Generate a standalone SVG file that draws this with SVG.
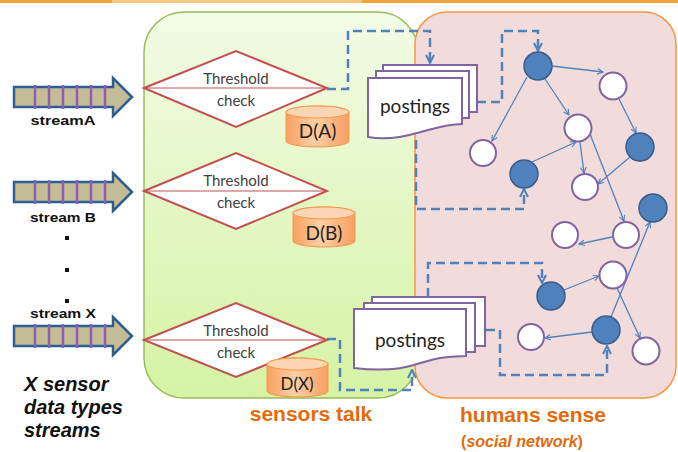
<svg xmlns="http://www.w3.org/2000/svg" width="678" height="452" viewBox="0 0 678 452">
<style>
.dash{fill:none;stroke:#4f81bd;stroke-width:2.5;stroke-dasharray:9 5}
.edge{fill:none;stroke:#4f81bd;stroke-width:1.3}
.bn{fill:#4f81bd;stroke:#385d8a;stroke-width:1.5}
.wn{fill:#ffffff;stroke:#8064a2;stroke-width:2}
.dia{fill:#ffffff;stroke:#c0504d;stroke-width:2}
.dline{stroke:#c0504d;stroke-width:1.2}
.tt{font-family:Lato,"Open Sans",sans-serif;font-size:15px;fill:#404040;text-anchor:middle}
.cyl{fill:url(#cylg);stroke:#f79646;stroke-width:1}
.cyltop{fill:#fcd5b4;stroke:#f79646;stroke-width:1}
.ct{font-family:Lato,"Open Sans",sans-serif;font-size:19px;fill:#222;text-anchor:middle}
.doc{fill:#ffffff;stroke:#8064a2;stroke-width:2}
.pt{font-family:Lato,"Open Sans",sans-serif;font-size:19px;fill:#222;text-anchor:middle}
.sl{font-family:"Liberation Sans",Arial,sans-serif;font-weight:bold;font-size:13px;fill:#111;text-anchor:middle}
.lab{font-family:"Liberation Sans",Arial,sans-serif;font-weight:bold;font-size:21px;fill:#e26b0a;text-anchor:middle}
.xs{font-family:"Liberation Sans",Arial,sans-serif;font-weight:bold;font-style:italic;font-size:20px;fill:#111}
.stripe{stroke:#8e5fb0;stroke-width:2.5}
</style>
<defs>
<linearGradient id="greeng" x1="0" y1="0" x2="0" y2="1">
<stop offset="0" stop-color="#f2fbe6"/>
<stop offset="1" stop-color="#d5f3a4"/>
</linearGradient>
<linearGradient id="cylg" x1="0" y1="0" x2="1" y2="0">
<stop offset="0" stop-color="#f8a060"/>
<stop offset="0.45" stop-color="#fccfa5"/>
<stop offset="1" stop-color="#f8a060"/>
</linearGradient>
<marker id="chev" viewBox="0 0 10 10" refX="9" refY="5" markerWidth="10" markerHeight="10" markerUnits="userSpaceOnUse" orient="auto">
<path d="M1,1 L9,5 L1,9" fill="none" stroke="#4f81bd" stroke-width="2" stroke-dasharray="none"/>
</marker>
<marker id="arr" viewBox="0 0 10 10" refX="9" refY="5" markerWidth="7" markerHeight="7" markerUnits="userSpaceOnUse" orient="auto">
<path d="M1,1 L9,5 L1,9" fill="none" stroke="#4f81bd" stroke-width="1.6"/>
</marker>
<g id="streamArrow">
<path d="M14,-10 H113 V-19 L132,0 L113,19 V10 H14 Z" fill="#c4bc96" stroke="#2e5d93" stroke-width="2.5" stroke-linejoin="miter"/>
<line class="stripe" x1="35" y1="-12" x2="35" y2="12"/>
<line class="stripe" x1="49" y1="-12" x2="49" y2="12"/>
<line class="stripe" x1="63" y1="-12" x2="63" y2="12"/>
<line class="stripe" x1="77" y1="-12" x2="77" y2="12"/>
<line class="stripe" x1="91" y1="-12" x2="91" y2="12"/>
<line class="stripe" x1="105" y1="-12" x2="105" y2="12"/>
</g>
</defs>

<rect x="0" y="0" width="678" height="3" fill="#f2a33a"/>
<rect x="112" y="0" width="250" height="3" fill="#f8c680"/>

<g id="sensors-panel">
<rect x="144" y="12" width="274" height="386" rx="40" ry="40" fill="url(#greeng)" stroke="#9bbb59" stroke-width="1.5"/>
</g>
<g id="humans-panel">
<rect x="415" y="12" width="261" height="386" rx="32" ry="32" fill="#f2dcdb" stroke="#f79646" stroke-width="1.5"/>
</g>

<g id="streamA"><use href="#streamArrow" transform="translate(0,97)"/>
<text class="sl" x="63" y="125" textLength="65" lengthAdjust="spacingAndGlyphs">streamA</text></g>
<g id="streamB"><use href="#streamArrow" transform="translate(0,192)"/>
<text class="sl" x="63" y="222" textLength="66" lengthAdjust="spacingAndGlyphs">stream B</text></g>
<g id="dots" fill="#111">
<rect x="65" y="236" width="4" height="4"/>
<rect x="65" y="268" width="4" height="4"/>
<rect x="65" y="299" width="4" height="4"/>
</g>
<g id="streamX"><use href="#streamArrow" transform="translate(0,336)"/>
<text class="sl" x="63" y="318" textLength="66" lengthAdjust="spacingAndGlyphs">stream X</text></g>
<g id="xsensor-label">
<text class="xs" x="24" y="391">X sensor</text>
<text class="xs" x="24" y="414">data types</text>
<text class="xs" x="24" y="437">streams</text>
</g>

<g id="checkA">
<polygon class="dia" points="144,88 236,51 327,88 236,127"/>
<line class="dline" x1="144" y1="88" x2="327" y2="88"/>
<text class="tt" x="236" y="84">Threshold</text>
<text class="tt" x="236" y="106">check</text>
</g>
<g id="checkB">
<polygon class="dia" points="144,191 236,153 327,191 236,229"/>
<line class="dline" x1="144" y1="191" x2="327" y2="191"/>
<text class="tt" x="236" y="186">Threshold</text>
<text class="tt" x="236" y="208">check</text>
</g>
<g id="checkX">
<polygon class="dia" points="144,340 236,303 327,340 236,377"/>
<line class="dline" x1="144" y1="340" x2="327" y2="340"/>
<text class="tt" x="236" y="336">Threshold</text>
<text class="tt" x="236" y="358">check</text>
</g>

<g id="DA">
<path class="cyl" d="M286,112 A31.5,6 0 0 1 349,112 V141 A31.5,6 0 0 1 286,141 Z"/>
<ellipse class="cyltop" cx="317.5" cy="112" rx="31.5" ry="6"/>
<text class="ct" x="317.5" y="138">D(A)</text>
</g>
<g id="DB">
<path class="cyl" d="M293,213 A31,6 0 0 1 355,213 V241 A31,6 0 0 1 293,241 Z"/>
<ellipse class="cyltop" cx="324" cy="213" rx="31" ry="6"/>
<text class="ct" x="324" y="240">D(B)</text>
</g>
<g id="DX">
<path class="cyl" d="M267,364 A30.5,6 0 0 1 328,364 V391 A30.5,6 0 0 1 267,391 Z"/>
<ellipse class="cyltop" cx="297.5" cy="364" rx="30.5" ry="6"/>
<text class="ct" x="297" y="390" style="font-size:17px">D(X)</text>
</g>

<g id="connectors">
<path class="dash" d="M327,89 H348 V31 H430 V63" marker-end="url(#chev)"/>
<path class="dash" d="M477,102 H502 V31 H538 V51" marker-end="url(#chev)"/>
<path class="dash" d="M416,140 V209 H524 V189" marker-end="url(#chev)"/>
<path class="dash" d="M327,339 H340 V390 H412 V370" marker-end="url(#chev)"/>
<path class="dash" d="M428,297 V263 H542 V283" marker-end="url(#chev)"/>
<path class="dash" d="M472,330 H500 V375 H607 V346" marker-end="url(#chev)"/>
<line class="edge" x1="552" y1="66" x2="603" y2="72" marker-end="url(#arr)"/>
<line class="edge" x1="527" y1="77" x2="492" y2="141" marker-end="url(#arr)"/>
<line class="edge" x1="545" y1="79" x2="569" y2="115" marker-end="url(#arr)"/>
<line class="edge" x1="619" y1="99" x2="636" y2="133" marker-end="url(#arr)"/>
<line class="edge" x1="532" y1="162" x2="576" y2="142" marker-end="url(#arr)"/>
<line class="edge" x1="580" y1="142" x2="584" y2="173" marker-end="url(#arr)"/>
<line class="edge" x1="590" y1="134" x2="624" y2="221" marker-end="url(#arr)"/>
<line class="edge" x1="630" y1="157" x2="598" y2="184" marker-end="url(#arr)"/>
<line class="edge" x1="612" y1="237" x2="579" y2="244" marker-end="url(#arr)"/>
<line class="edge" x1="564" y1="290" x2="599" y2="276" marker-end="url(#arr)"/>
<line class="edge" x1="617" y1="288" x2="640" y2="338" marker-end="url(#arr)"/>
<line class="edge" x1="592" y1="332" x2="545" y2="338" marker-end="url(#arr)"/>
<line class="edge" x1="611" y1="317" x2="650" y2="222" marker-end="url(#arr)"/>
</g>

<g id="postingsTop">
<rect class="doc" x="383" y="65" width="94" height="47"/>
<rect class="doc" x="376" y="71" width="93" height="47"/>
<path class="doc" d="M368,78 H462 V124 C445,124 430,130 417,133 C400,138 385,140 368,137 Z"/>
<text class="pt" x="415" y="113">postings</text>
</g>
<g id="postingsBottom">
<rect class="doc" x="372" y="297" width="113" height="49"/>
<rect class="doc" x="364" y="303" width="111" height="49"/>
<path class="doc" d="M354,309 H466 V356 C455,356 448,357 440,358 C430,360 425,362 417,364 C400,370 380,371 354,368 Z"/>
<text class="pt" x="410" y="347">postings</text>
</g>

<g id="N1"><circle class="bn" cx="538" cy="66" r="14"/></g>
<g id="N2"><circle class="wn" cx="613" cy="86" r="13.5"/></g>
<g id="N3"><circle class="wn" cx="578" cy="128" r="13.5"/></g>
<g id="N4"><circle class="wn" cx="483" cy="153" r="13"/></g>
<g id="N5"><circle class="bn" cx="524" cy="174" r="14"/></g>
<g id="N6"><circle class="bn" cx="640" cy="147" r="14"/></g>
<g id="N7"><circle class="wn" cx="585" cy="187" r="13"/></g>
<g id="N8"><circle class="bn" cx="653" cy="208" r="14"/></g>
<g id="N9"><circle class="wn" cx="565" cy="235" r="13"/></g>
<g id="N10"><circle class="wn" cx="626" cy="235" r="13"/></g>
<g id="N11"><circle class="wn" cx="613" cy="275" r="13.5"/></g>
<g id="N12"><circle class="bn" cx="551" cy="296" r="14"/></g>
<g id="N13"><circle class="wn" cx="531" cy="337" r="13"/></g>
<g id="N14"><circle class="bn" cx="606" cy="330" r="14"/></g>
<g id="N15"><circle class="wn" cx="646" cy="351" r="13.5"/></g>

<g id="labels">
<text class="lab" x="311" y="421">sensors talk</text>
<text class="lab" x="533" y="422">humans sense</text>
<text class="lab" x="522" y="447" style="font-size:16px">(<tspan font-style="italic">social network</tspan>)</text>
</g>
</svg>
